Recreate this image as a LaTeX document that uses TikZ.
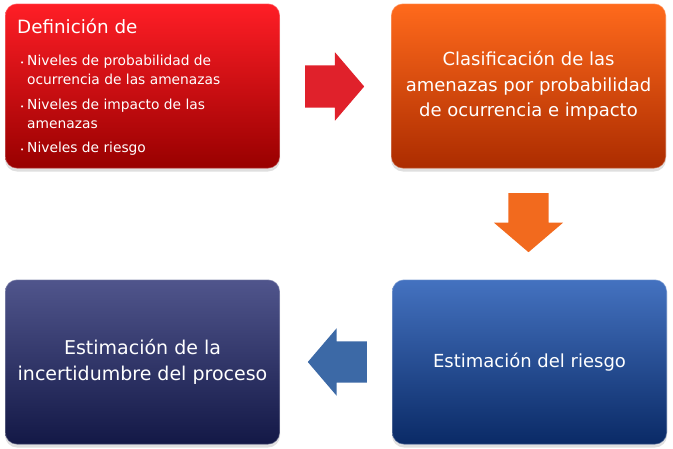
\documentclass[tikz,border=0pt]{standalone}
\usepackage{fontspec}
\setmainfont{DejaVu Sans}
\usetikzlibrary{shapes.arrows,shadows}

\definecolor{rojoA}{HTML}{FF1E26}
\definecolor{rojoB}{HTML}{980000}
\definecolor{naranjaA}{HTML}{FF6A1C}
\definecolor{naranjaB}{HTML}{AC2C00}
\definecolor{azulA}{HTML}{4472C0}
\definecolor{azulB}{HTML}{0A2A66}
\definecolor{marinoA}{HTML}{50558C}
\definecolor{marinoB}{HTML}{131846}
\definecolor{flechaRoja}{HTML}{E0212B}
\definecolor{flechaNaranja}{HTML}{F26A1E}
\definecolor{flechaAzul}{HTML}{3C69A6}

\tikzset{
  caja/.style={rounded corners=12pt, minimum width=275pt, minimum height=165pt,
    inner sep=0pt, text=white, align=center, font=\fontsize{18}{25.5}\selectfont,
    draw=white, draw opacity=0.35, line width=1.2pt,
    drop shadow={shadow xshift=0pt, shadow yshift=-3pt, opacity=0.25}},
  flecha/.style={single arrow, inner xsep=0pt, inner ysep=21pt, draw=none,
    minimum height=59pt, single arrow head extend=13pt, single arrow tip angle=99,
    anchor=tail}
}

\begin{document}
\begin{tikzpicture}[x=1pt,y=-1pt]
  \useasboundingbox (0,0) rectangle (673,448);
  \node[caja, top color=rojoA, bottom color=rojoB] (defn) at (142.5,86) {};
  \node[caja, top color=naranjaA, bottom color=naranjaB] (clasif) at (528.5,86)
    {Clasificación de las\\amenazas por probabilidad\\de ocurrencia e impacto};
  \node[caja, top color=azulA, bottom color=azulB] (riesgo) at (529.5,362)
    {Estimación del riesgo};
  \node[caja, top color=marinoA, bottom color=marinoB, font=\fontsize{19}{25.5}\selectfont]
    (incert) at (142.5,362) {Estimación de la\\incertidumbre del proceso};
  \node[anchor=base west, inner sep=0pt, text=white, font=\fontsize{18.3}{20}\selectfont]
    (titulo) at (17,33) {Definición de};
  \node[anchor=north west, inner sep=0pt, text=white, align=left,
    font=\fontsize{13.8}{19}\selectfont] (lista) at (20,55)
    {\makebox[7pt][l]{\scriptsize•}Niveles de probabilidad de\\
     \hspace*{7pt}ocurrencia de las amenazas\\[5.5pt]
     \makebox[7pt][l]{\scriptsize•}Niveles de impacto de las\\
     \hspace*{7pt}amenazas\\[5.5pt]
     \makebox[7pt][l]{\scriptsize•}Niveles de riesgo};
  \node[flecha, fill=flechaRoja] (f1) at (305,86.5) {};
  \node[flecha, fill=flechaNaranja, inner ysep=20pt, single arrow head extend=14.5pt,
    rotate=-90] (f2) at (528.5,193) {};
  \node[flecha, fill=flechaAzul, inner ysep=20.5pt, rotate=180] (f3) at (367,362) {};
\end{tikzpicture}
\end{document}
